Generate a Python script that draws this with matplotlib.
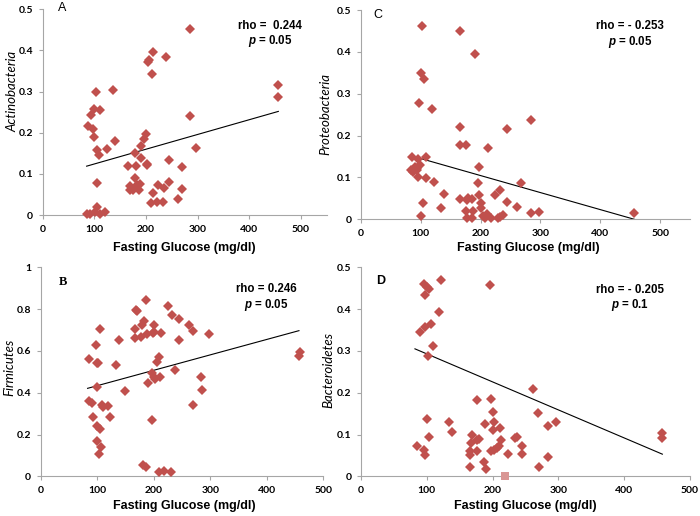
import numpy as np
import matplotlib
matplotlib.use('Agg')
import matplotlib.pyplot as plt

plt.rcParams['mathtext.fontset'] = 'custom'
plt.rcParams['mathtext.it'] = 'Liberation Sans:italic:bold'
plt.rcParams['mathtext.rm'] = 'Liberation Sans:bold'

# Panel A - Actinobacteria
a_x = [285, 214, 206, 203, 238, 211, 456, 456, 103, 136, 99, 111, 93, 285, 88, 98, 100, 140,
       106, 124, 108, 297, 199, 197, 190, 179, 191, 166, 181, 201, 201, 245, 270, 178, 169, 168,
       182, 188, 187, 174, 224, 235, 245, 214, 269, 262, 209, 221, 232, 105, 86, 92, 101, 106,
       111, 121]
a_y = [0.452, 0.396, 0.376, 0.373, 0.385, 0.343, 0.316, 0.287, 0.300, 0.304, 0.259, 0.255, 0.244,
       0.240, 0.217, 0.210, 0.190, 0.181, 0.158, 0.160, 0.146, 0.163, 0.197, 0.184, 0.167, 0.152,
       0.140, 0.120, 0.119, 0.125, 0.121, 0.134, 0.117, 0.091, 0.070, 0.061, 0.074, 0.076, 0.062,
       0.062, 0.074, 0.066, 0.081, 0.055, 0.063, 0.039, 0.030, 0.032, 0.032, 0.077, 0.002, 0.002,
       0.008, 0.020, 0.004, 0.008]
a_line_x = [85, 456]
a_line_y = [0.119, 0.252]

# Panel C - Proteobacteria
c_x = [102, 165, 190, 101, 105, 97, 118, 166, 284, 244, 166, 176, 213, 85, 108, 96, 98, 90, 83,
       87, 93, 94, 96, 108, 122, 197, 196, 268, 138, 197, 224, 233, 166, 177, 179, 186, 200, 201,
       244, 261, 103, 133, 175, 188, 178, 185, 204, 207, 210, 218, 229, 233, 237, 284, 297, 100, 457]
c_y = [0.462, 0.450, 0.395, 0.349, 0.334, 0.278, 0.264, 0.220, 0.237, 0.216, 0.177, 0.177, 0.171,
       0.150, 0.150, 0.144, 0.129, 0.126, 0.117, 0.112, 0.117, 0.122, 0.100, 0.098, 0.089, 0.124,
       0.086, 0.086, 0.061, 0.059, 0.058, 0.070, 0.048, 0.046, 0.052, 0.048, 0.040, 0.026, 0.042,
       0.030, 0.039, 0.026, 0.019, 0.021, 0.003, 0.003, 0.008, 0.002, 0.013, 0.002, 0.003, 0.006,
       0.010, 0.014, 0.018, 0.009, 0.016]
c_line_x = [83, 457]
c_line_y = [0.152, 0.0]

# Panel B - Firmicutes
b_x = [187, 225, 169, 171, 233, 244, 183, 180, 200, 262, 269, 297, 105, 167, 167, 177, 139, 245,
       189, 198, 213, 200, 98, 86, 99, 102, 134, 210, 206, 237, 197, 200, 212, 203, 190, 283, 458,
       457, 100, 149, 285, 269, 85, 90, 109, 111, 120, 92, 123, 99, 105, 197, 100, 107, 104, 181,
       186, 209, 219, 231]
b_y = [0.844, 0.817, 0.797, 0.790, 0.770, 0.751, 0.742, 0.722, 0.724, 0.722, 0.697, 0.681, 0.703,
       0.703, 0.660, 0.668, 0.654, 0.652, 0.681, 0.687, 0.686, 0.692, 0.627, 0.563, 0.544, 0.541,
       0.531, 0.569, 0.547, 0.509, 0.493, 0.477, 0.474, 0.466, 0.448, 0.477, 0.595, 0.574, 0.429,
       0.407, 0.415, 0.343, 0.359, 0.349, 0.343, 0.330, 0.337, 0.282, 0.282, 0.239, 0.228, 0.271,
       0.167, 0.142, 0.107, 0.056, 0.046, 0.019, 0.024, 0.022]
b_line_x = [83, 457]
b_line_y = [0.421, 0.697]

# Panel D - Bacteroidetes
d_x = [122, 96, 100, 103, 196, 98, 119, 106, 98, 90, 109, 102, 261, 176, 197, 200, 269, 100, 133,
       202, 188, 297, 284, 211, 200, 138, 104, 169, 179, 177, 213, 234, 237, 457, 457, 85, 96, 97,
       167, 166, 166, 177, 198, 202, 206, 209, 245, 224, 244, 284, 187, 165, 190, 270]
d_y = [0.470, 0.459, 0.452, 0.449, 0.457, 0.435, 0.393, 0.365, 0.357, 0.346, 0.311, 0.288, 0.208,
       0.183, 0.186, 0.155, 0.151, 0.136, 0.130, 0.131, 0.125, 0.129, 0.120, 0.116, 0.111, 0.106,
       0.095, 0.098, 0.089, 0.086, 0.088, 0.092, 0.093, 0.104, 0.092, 0.073, 0.064, 0.052, 0.080,
       0.061, 0.052, 0.061, 0.060, 0.064, 0.068, 0.073, 0.072, 0.053, 0.053, 0.046, 0.034, 0.023,
       0.018, 0.022]
d_extra_x = [219]
d_extra_y = [0.0]
d_line_x = [82, 458]
d_line_y = [0.305, 0.053]

MARKER_COLOR = '#C0504D'
AXIS_COLOR = '#A6A6A6'


def style_axis(ax, xmax, ymax, yticks, ylabel, xlab_pos, ylab_pos):
    ax.set_xlim(0, xmax)
    ax.set_ylim(0, ymax)
    ax.set_xticks([0, 100, 200, 300, 400, 500])
    ax.set_yticks(yticks)
    ax.set_yticklabels([('%g' % t) for t in yticks])
    for side in ['top', 'right']:
        ax.spines[side].set_visible(False)
    for side in ['left', 'bottom']:
        ax.spines[side].set_color(AXIS_COLOR)
        ax.spines[side].set_linewidth(0.8)
    ax.tick_params(axis='both', colors=AXIS_COLOR, length=3, width=0.8, direction='out',
                   labelcolor='black', labelsize=7.5, pad=4)
    for lab in ax.get_xticklabels() + ax.get_yticklabels():
        lab.set_fontfamily('Lato')
        lab.set_fontweight('bold')
    ax.set_xlabel('Fasting Glucose (mg/dl)', fontsize=9, fontweight='bold',
                  family='Liberation Sans', va='center')
    ax.set_ylabel(ylabel, fontsize=9.5, style='italic', family='Lato', va='center')
    ax.xaxis.set_label_coords(*xlab_pos)
    ax.yaxis.set_label_coords(*ylab_pos)


def draw_panel(ax, xs, ys, line_x, line_y):
    ax.plot(line_x, line_y, color='black', linewidth=0.8, zorder=2)
    ax.plot(xs, ys, linestyle='none', marker='D', markersize=5.5, color=MARKER_COLOR,
            markeredgewidth=0, zorder=3, clip_on=False)


def stats_text(ax, x, y1, y2, rho, p):
    ax.text(x, y1, rho, transform=ax.transAxes, ha='center', va='center', fontsize=8.3,
            fontweight='bold', family='Liberation Sans')
    ax.text(x, y2, r'$p$ = ' + p, transform=ax.transAxes, ha='center', va='center',
            fontsize=8.3, fontweight='bold', family='Liberation Sans')


fig = plt.figure(figsize=(7, 5.16), dpi=100)
ax_a = fig.add_axes([0.061, 0.583, 0.406, 0.399])
ax_c = fig.add_axes([0.5157, 0.575, 0.470, 0.4056])
ax_b = fig.add_axes([0.0581, 0.0769, 0.4037, 0.405])
ax_d = fig.add_axes([0.5157, 0.0769, 0.470, 0.405])

draw_panel(ax_a, a_x, a_y, a_line_x, a_line_y)
style_axis(ax_a, 550, 0.5, [0, 0.1, 0.2, 0.3, 0.4, 0.5], 'Actinobacteria',
           (0.497, -0.16), (-0.108, 0.6))
ax_a.text(0.07, 1.005, 'A', transform=ax_a.transAxes, ha='center', va='center', fontsize=9,
          family='Liberation Sans')
stats_text(ax_a, 0.80, 0.92, 0.848, 'rho =  0.244', '0.05')

draw_panel(ax_c, c_x, c_y, c_line_x, c_line_y)
style_axis(ax_c, 550, 0.5, [0, 0.1, 0.2, 0.3, 0.4, 0.5], 'Proteobacteria',
           (0.508, -0.137), (-0.109, 0.503))
ax_c.text(0.05, 0.976, 'C', transform=ax_c.transAxes, ha='center', va='center', fontsize=9,
          family='Liberation Sans')
stats_text(ax_c, 0.818, 0.922, 0.845, 'rho = - 0.253', '0.05')

draw_panel(ax_b, b_x, b_y, b_line_x, b_line_y)
style_axis(ax_b, 500, 1.0, [0, 0.2, 0.4, 0.6, 0.8, 1.0], 'Firmicutes',
           (0.51, -0.142), (-0.112, 0.52))
ax_b.text(0.079, 0.93, 'B', transform=ax_b.transAxes, ha='center', va='center', fontsize=9,
          fontweight='bold', family='Liberation Serif')
stats_text(ax_b, 0.797, 0.894, 0.822, 'rho = 0.246', '0.05')

draw_panel(ax_d, d_x, d_y, d_line_x, d_line_y)
ax_d.plot(d_extra_x, d_extra_y, linestyle='none', marker='s', markersize=6, color='#D99694',
          markeredgewidth=0, zorder=4, clip_on=False)
style_axis(ax_d, 500, 0.5, [0, 0.1, 0.2, 0.3, 0.4, 0.5], 'Bacteroidetes',
           (0.498, -0.142), (-0.10, 0.51))
ax_d.text(0.061, 0.934, 'D', transform=ax_d.transAxes, ha='center', va='center', fontsize=9,
          fontweight='bold', family='Liberation Sans')
stats_text(ax_d, 0.818, 0.89, 0.818, 'rho = - 0.205', '0.1')

fig.savefig('out.png', dpi=100)
